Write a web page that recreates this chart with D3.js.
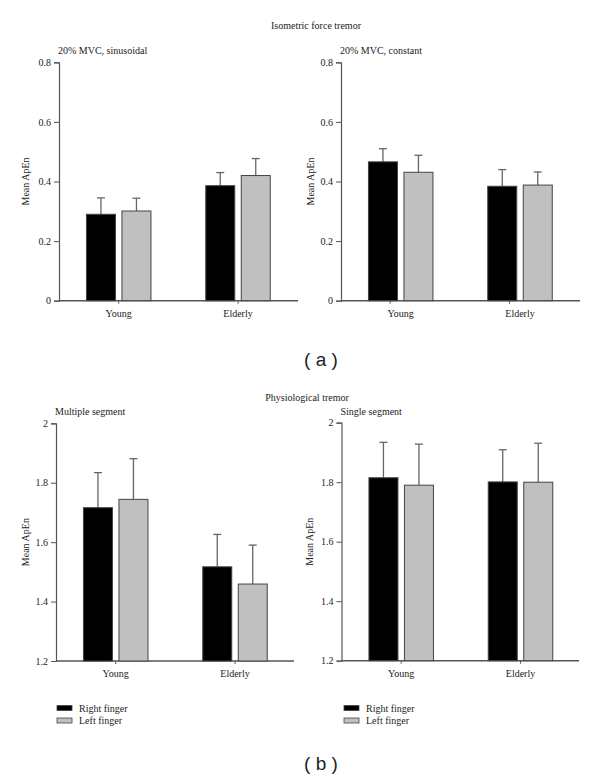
<!DOCTYPE html>
<html><head><meta charset="utf-8">
<script src="https://cdn.jsdelivr.net/npm/d3@7"></script>
<style>
html,body{margin:0;padding:0;background:#fff;}
svg{display:block;}
text{font-family:"Liberation Serif","DejaVu Serif",serif;fill:#222;}
</style></head>
<body>
<svg id="chart" width="600" height="776"></svg>
<script>
// ---- data ----
const groups = ["Young", "Elderly"];
const seriesNames = ["Right finger", "Left finger"];

const sinRight = [0.290, 0.386];
const sinRightSD = [0.055, 0.044];
const sinLeft = [0.301, 0.420];
const sinLeftSD = [0.043, 0.057];

const conRight = [0.466, 0.384];
const conRightSD = [0.044, 0.056];
const conLeft = [0.431, 0.388];
const conLeftSD = [0.057, 0.044];

const multRight = [1.716, 1.517];
const multRightSD = [0.118, 0.109];
const multLeft = [1.744, 1.459];
const multLeftSD = [0.137, 0.131];

const singRight = [1.815, 1.801];
const singRightSD = [0.119, 0.108];
const singLeft = [1.790, 1.800];
const singLeftSD = [0.138, 0.131];

const forceTicks = [0, 0.2, 0.4, 0.6, 0.8];
const forceTickLabels = ["0", "0.2", "0.4", "0.6", "0.8"];
const physTicks = [1.2, 1.4, 1.6, 1.8, 2];
const physTickLabels = ["1.2", "1.4", "1.6", "1.8", "2"];

const yLabel = "Mean ApEn";
const sectionTitles = ["Isometric force tremor", "Physiological tremor"];
const panelLabels = ["( a )", "( b )"];

// ---- styles / layout ----
const colors = ["#000000", "#c0c0c0"];
const axisColor = "#555";
const svg = d3.select("#chart");

const panels = [
  {title: "20% MVC, sinusoidal", right: sinRight, rightSD: sinRightSD, left: sinLeft, leftSD: sinLeftSD,
   ticks: forceTicks, tickLabels: forceTickLabels, domain: [0, 0.8],
   x0: 59, xEnd: 298, yTop: 62.3, yBot: 300.7, tickShift: 0, yLabX: 25},
  {title: "20% MVC, constant", right: conRight, rightSD: conRightSD, left: conLeft, leftSD: conLeftSD,
   ticks: forceTicks, tickLabels: forceTickLabels, domain: [0, 0.8],
   x0: 341, xEnd: 580, yTop: 62.3, yBot: 300.7, tickShift: -10.5, yLabX: 310},
  {title: "Multiple segment", right: multRight, rightSD: multRightSD, left: multLeft, leftSD: multLeftSD,
   ticks: physTicks, tickLabels: physTickLabels, domain: [1.2, 2],
   x0: 56, xEnd: 294, yTop: 423.3, yBot: 661, tickShift: 0, yLabX: 25},
  {title: "Single segment", right: singRight, rightSD: singRightSD, left: singLeft, leftSD: singLeftSD,
   ticks: physTicks, tickLabels: physTickLabels, domain: [1.2, 2],
   x0: 341.5, xEnd: 579, yTop: 422.7, yBot: 660.7, tickShift: 0, yLabX: 309}
];

panels.forEach(p => {
  const g = svg.append("g");
  const y = d3.scaleLinear().domain(p.domain).range([p.yBot, p.yTop]);
  const xg = d3.scalePoint().domain(groups).range([p.x0 + 59.7, p.x0 + 179]);
  const xs = d3.scaleBand().domain(seriesNames).range([-32.25, 32.25]).paddingInner(0.183);

  // y axis
  const yAxis = d3.axisLeft(y).tickValues(p.ticks)
    .tickFormat((d, i) => p.tickLabels[i]).tickSize(5).tickPadding(3);
  const ya = g.append("g").attr("transform", `translate(${p.x0},0)`).call(yAxis);
  ya.select(".domain").attr("stroke", axisColor).attr("stroke-width", 1.2);
  ya.selectAll(".tick line").attr("stroke", axisColor);
  ya.selectAll(".tick text").attr("font-size", 10).attr("fill", "#222")
    .attr("font-family", '"Liberation Serif",serif');

  // x axis line
  g.append("line").attr("x1", p.x0).attr("x2", p.xEnd)
    .attr("y1", p.yBot).attr("y2", p.yBot)
    .attr("stroke", axisColor).attr("stroke-width", 1.4);
  // x ticks
  g.selectAll(".xt").data(groups).enter().append("line")
    .attr("x1", d => xg(d) + p.tickShift).attr("x2", d => xg(d) + p.tickShift)
    .attr("y1", p.yBot).attr("y2", p.yBot + 3)
    .attr("stroke", axisColor);
  g.selectAll(".xl").data(groups).enter().append("text")
    .attr("x", d => xg(d)).attr("y", p.yBot + 16)
    .attr("text-anchor", "middle").attr("font-size", 10).text(d => d);

  // bars
  const rows = [];
  groups.forEach((grp, i) => {
    rows.push({grp, s: seriesNames[0], v: p.right[i], sd: p.rightSD[i], c: colors[0]});
    rows.push({grp, s: seriesNames[1], v: p.left[i], sd: p.leftSD[i], c: colors[1]});
  });
  // error bars (behind bars)
  rows.forEach(r => {
    const cx = xg(r.grp) + xs(r.s) + xs.bandwidth() / 2;
    g.append("line").attr("x1", cx).attr("x2", cx)
      .attr("y1", y(r.v)).attr("y2", y(r.v + r.sd))
      .attr("stroke", "#666").attr("stroke-width", 1.3);
    g.append("line").attr("x1", cx - 4).attr("x2", cx + 4)
      .attr("y1", y(r.v + r.sd)).attr("y2", y(r.v + r.sd))
      .attr("stroke", "#666").attr("stroke-width", 1.3);
  });
  g.selectAll(".bar").data(rows).enter().append("rect")
    .attr("x", d => xg(d.grp) + xs(d.s))
    .attr("width", xs.bandwidth())
    .attr("y", d => y(d.v))
    .attr("height", d => p.yBot - y(d.v))
    .attr("fill", d => d.c)
    .attr("stroke", "#444").attr("stroke-width", 1);

  // panel title
  g.append("text").attr("x", p.x0 - 1).attr("y", p.yTop - 8)
    .attr("font-size", 10).text(p.title);
  // y label
  g.append("text")
    .attr("transform", `translate(${p.yLabX},${(p.yTop + p.yBot) / 2}) rotate(-90)`)
    .attr("text-anchor", "middle").attr("dy", "0.35em").attr("font-size", 10).text(yLabel);
});

// section titles
svg.append("text").attr("x", 316).attr("y", 29).attr("text-anchor", "middle")
  .attr("font-size", 10).text(sectionTitles[0]);
svg.append("text").attr("x", 307).attr("y", 401).attr("text-anchor", "middle")
  .attr("font-size", 10).text(sectionTitles[1]);

// panel labels
[[panelLabels[0], 366], [panelLabels[1], 770]].forEach(([t, yy]) => {
  svg.append("text").attr("x", 321).attr("y", yy).attr("text-anchor", "middle")
    .attr("font-size", 19).style("font-family", '"Liberation Sans",Arial,sans-serif')
    .attr("xml:space", "preserve").text(t);
});

// legends
[57, 344].forEach(lx => {
  const lg = svg.append("g");
  seriesNames.forEach((s, i) => {
    lg.append("rect").attr("x", lx).attr("y", 705.5 + i * 12.5).attr("width", 15).attr("height", 5)
      .attr("fill", colors[i]).attr("stroke", "#444").attr("stroke-width", 0.8);
    lg.append("text").attr("x", lx + 22).attr("y", 711.5 + i * 12.5)
      .attr("font-size", 10).text(s);
  });
});
</script>
</body></html>
